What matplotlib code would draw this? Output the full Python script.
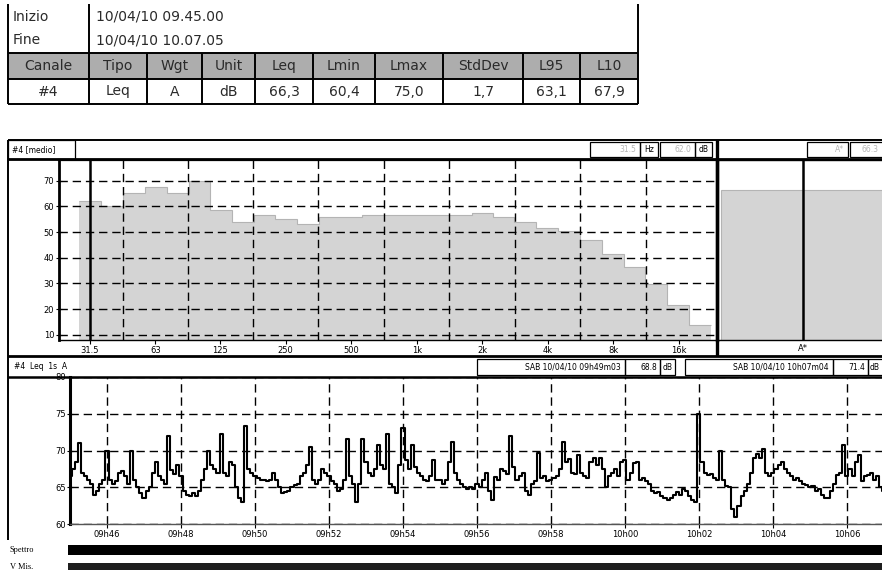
import numpy as np
import pandas as pd
import matplotlib
matplotlib.use("Agg")
import matplotlib.pyplot as plt
import matplotlib.dates as mdates
from matplotlib.patches import Rectangle
from matplotlib.ticker import FixedLocator, NullFormatter

W, H = 882, 570

# ---- table at the top
info_labels = ["Inizio", "Fine"]
info_values = ["10/04/10 09.45.00", "10/04/10 10.07.05"]
col_names = ["Canale", "Tipo", "Wgt", "Unit", "Leq", "Lmin", "Lmax", "StdDev", "L95", "L10"]
row_values = ["#4", "Leq", "A", "dB", "66,3", "60,4", "75,0", "1,7", "63,1", "67,9"]

# ---- 1/3 octave spectrum (medio)
bands = [31.5, 40, 50, 63, 80, 100, 125, 160, 200, 250, 315, 400, 500, 630, 800,
         1000, 1250, 1600, 2000, 2500, 3150, 4000, 5000, 6300, 8000, 10000, 12500,
         16000, 20000]
spec_leq = [62.0, 60.2, 65.0, 67.4, 65.0, 70.0, 58.5, 53.7, 56.6, 55.0, 53.0, 55.7,
            56.0, 56.6, 56.6, 56.6, 56.6, 56.6, 57.2, 56.0, 54.0, 51.5, 50.4, 46.8,
            41.6, 36.4, 29.9, 21.8, 13.7]
band_ticks = [31.5, 63, 125, 250, 500, 1000, 2000, 4000, 8000, 16000]
band_ticklabels = ["31.5", "63", "125", "250", "500", "1k", "2k", "4k", "8k", "16k"]
overall_label = "A*"
overall_leq = 66.3

# ---- Leq 1s time history, read every 5 s from 09:45:00
leq_hist = [
    66.5, 67.5, 68.5, 71.0, 67.0, 66.5, 66.0, 65.5, 64.0, 64.5, 65.5, 66.0,
    70.0, 66.0, 65.5, 65.8, 67.0, 67.2, 66.5, 65.5, 70.0, 66.0, 65.0, 64.2,
    63.6, 64.5, 65.0, 67.0, 68.5, 66.5, 66.0, 65.5, 72.0, 67.3, 66.8, 68.0,
    66.5, 64.5, 64.0, 63.8, 64.2, 63.8, 64.5, 66.0, 67.5, 70.0, 68.0, 67.5,
    67.0, 72.3, 67.0, 66.5, 68.5, 68.0, 65.0, 63.5, 63.0, 73.4, 67.5, 67.0,
    66.5, 66.3, 66.0, 66.0, 65.8, 66.0, 67.0, 66.0, 65.0, 64.2, 64.3, 64.5,
    65.0, 65.3, 65.5, 66.5, 67.0, 68.0, 70.5, 66.0, 65.5, 66.0, 67.5, 67.0,
    66.5, 65.8, 65.5, 64.5, 64.8, 66.0, 71.5, 66.5, 65.5, 63.0, 65.5, 71.6,
    68.5, 67.0, 66.5, 67.5, 70.8, 68.0, 67.5, 72.2, 65.5, 65.0, 64.2, 68.0,
    73.1, 68.7, 67.5, 70.8, 67.8, 67.0, 66.5, 66.0, 65.8, 66.5, 68.7, 66.0,
    66.0, 65.5, 66.0, 68.5, 71.1, 67.0, 66.0, 65.5, 65.0, 64.8, 65.0, 64.7,
    65.5, 65.0, 66.0, 66.9, 64.5, 63.3, 66.4, 66.0, 67.5, 67.2, 66.8, 72.0,
    67.8, 66.0, 66.5, 67.0, 64.5, 64.0, 65.5, 65.8, 69.7, 66.3, 66.5, 65.8,
    66.0, 66.3, 66.5, 67.5, 71.1, 68.5, 68.8, 67.0, 66.8, 69.4, 67.0, 66.5,
    66.3, 68.5, 69.0, 68.0, 69.0, 67.5, 65.0, 66.5, 67.0, 67.5, 66.5, 68.5,
    68.7, 66.0, 67.0, 68.3, 68.5, 66.0, 66.3, 65.8, 65.5, 64.5, 64.2, 64.3,
    63.8, 63.5, 63.3, 63.6, 64.0, 64.3, 64.0, 64.7, 64.5, 63.8, 63.3, 63.0,
    75.0, 68.5, 67.0, 66.6, 66.8, 66.2, 66.0, 70.0, 66.0, 65.2, 65.0, 62.0,
    61.0, 62.5, 63.8, 64.5, 65.5, 67.0, 69.0, 69.5, 69.0, 70.2, 67.0, 66.5,
    67.0, 67.5, 68.0, 68.5, 67.5, 67.0, 66.5, 66.0, 66.2, 65.8, 65.5, 65.3,
    65.0, 65.2, 64.5, 64.8, 64.0, 63.5, 63.6, 64.5, 65.5, 66.6, 67.0, 70.7,
    66.5, 67.5, 66.5, 68.5, 69.4, 65.8, 66.5, 66.6, 67.0, 66.0, 66.5, 65.0,
    64.5, 64.8,
]
t_start = "2010-04-10 09:45:00"
t_end = "2010-04-10 10:07:05"
hist_title = "#4  Leq  1s  A"
cursor1 = ("SAB 10/04/10 09h49m03", "68.8")
cursor2 = ("SAB 10/04/10 10h07m04", "71.4")

plt.rcParams["font.family"] = ["DejaVu Sans"]
fig = plt.figure(figsize=(W / 100, H / 100), dpi=100)
fig.patch.set_facecolor("white")


def px_ax(x0, y0, x1, y1):
    return fig.add_axes([x0 / W, 1 - y1 / H, (x1 - x0) / W, (y1 - y0) / H])


DASH = (0, (6, 3.5))
BAR_GRAY = "#d4d4d4"
TXT = "#2a2a2a"

# ---------------- spectrum panel
ax = px_ax(59, 160, 717, 340)
edges = [bands[0] / 2 ** (1 / 6)]
for a, b in zip(bands[:-1], bands[1:]):
    edges.append(np.sqrt(a * b))
edges.append(bands[-1] * 2 ** (1 / 6))
edges = np.array(edges)
ax.bar(edges[:-1], spec_leq, width=np.diff(edges), align="edge", bottom=0,
       color=BAR_GRAY, edgecolor="none", zorder=1)
ax.stairs(spec_leq, edges, baseline=None, color="#b4b4b4", lw=0.8, zorder=1.5)
ax.set_xscale("log", base=2)
ax.set_xlim(22.7, 24000)
ax.set_ylim(8, 78)
ax.xaxis.set_major_locator(FixedLocator(band_ticks))
ax.set_xticklabels(band_ticklabels)
mids = [np.sqrt(a * b) for a, b in zip(band_ticks[:-1], band_ticks[1:])]
ax.xaxis.set_minor_locator(FixedLocator(mids))
ax.xaxis.set_minor_formatter(NullFormatter())
ax.set_yticks(range(10, 71, 10))
ax.xaxis.grid(True, which="minor", color="k", ls=DASH, lw=1.0, zorder=2)
ax.yaxis.grid(True, which="major", color="k", ls=DASH, lw=1.0, zorder=2)
ax.set_axisbelow(False)
ax.tick_params(axis="x", which="major", length=3, width=0.8, pad=1, labelsize=6)
ax.tick_params(axis="x", which="minor", length=0)
ax.tick_params(axis="y", length=5, width=0.8, direction="inout", pad=1, labelsize=6)
ax.axvline(bands[0], color="k", lw=1.8, zorder=3)
for s, w in (("left", 2.0), ("right", 2.4), ("top", 1.6), ("bottom", 1.0)):
    ax.spines[s].set_linewidth(w)

# overall level panel
ax2 = px_ax(718, 160, 888, 340)
ax2.bar([0], [overall_leq], width=0.96, color=BAR_GRAY, edgecolor="#b4b4b4", lw=0.8)
ax2.axvline(0, color="k", lw=1.8)
ax2.set_xlim(-0.5, 0.5)
ax2.set_ylim(8, 78)
ax2.set_yticks([])
ax2.set_xticks([0])
ax2.set_xticklabels([overall_label])
ax2.tick_params(axis="x", length=0, pad=3, labelsize=6)
for s in ax2.spines.values():
    s.set_linewidth(1.0)

# ---------------- time history panel
times = pd.date_range(t_start, periods=len(leq_hist), freq="5s")
ax3 = px_ax(70, 377, 887, 524)
ax3.plot(times, leq_hist, color="k", lw=1.5, drawstyle="steps-mid", zorder=3)
ax3.set_xlim(pd.Timestamp(t_start), pd.Timestamp(t_end))
ax3.set_ylim(60, 80)
ax3.set_yticks(range(60, 81, 5))
ax3.xaxis.set_major_locator(mdates.MinuteLocator(byminute=range(0, 60, 2)))
ax3.xaxis.set_major_formatter(mdates.DateFormatter("%Hh%M"))
ax3.grid(True, color="k", ls=DASH, lw=1.0, zorder=2)
ax3.tick_params(axis="x", length=3, width=0.8, pad=1, labelsize=6)
ax3.tick_params(axis="y", length=4, width=0.8, direction="inout", pad=1, labelsize=6)
ax3.spines["left"].set_linewidth(2.2)
ax3.spines["bottom"].set_linewidth(1.0)
ax3.spines["bottom"].set_color("#555555")

# ---------------- overlay: table, frames, header strips
ov = fig.add_axes([0, 0, 1, 1])
ov.set_xlim(0, W)
ov.set_ylim(H, 0)
ov.axis("off")
ov.patch.set_visible(False)
ov.set_zorder(10)


def line(x0, y0, x1, y1, lw=1.2, color="k"):
    ov.plot([x0, x1], [y0, y1], color=color, lw=lw, solid_capstyle="butt")


def box(x0, y0, x1, y1, lw=0.9):
    ov.add_patch(Rectangle((x0, y0), x1 - x0, y1 - y0, fill=False, edgecolor="k", lw=lw))


# table
tab_x = [8, 89, 147, 202, 255, 313, 375, 443, 523, 580, 638]
ov.add_patch(Rectangle((8, 53), 630, 26, facecolor="#adadad", edgecolor="none"))
for y in (53, 79, 104):
    line(8, y, 638, y, lw=1.4)
line(8, 4, 8, 104, lw=1.4)
line(89, 4, 89, 104, lw=1.4)
line(638, 4, 638, 104, lw=1.4)
for x in tab_x[2:-1]:
    line(x, 53, x, 104, lw=1.4)
for i, (lab, val) in enumerate(zip(info_labels, info_values)):
    yy = 17 + 23 * i
    ov.text(13, yy, lab, fontsize=10, va="center", ha="left", color=TXT)
    ov.text(96, yy, val, fontsize=10, va="center", ha="left", color=TXT)
for i, (name, val) in enumerate(zip(col_names, row_values)):
    xc = (tab_x[i] + tab_x[i + 1]) / 2
    ov.text(xc, 66, name, fontsize=10, ha="center", va="center", color=TXT)
    ov.text(xc, 91.5, val, fontsize=10, ha="center", va="center", color=TXT)

# chart frame
line(8, 140, 882, 140, lw=1.4)
line(8, 159, 882, 159, lw=2.0)
line(8, 140, 8, 540, lw=1.4)
line(717, 140, 717, 356, lw=2.4)
line(8, 356, 882, 356, lw=2.0)
line(8, 377, 882, 377, lw=1.8)

# spectrum header strip
box(8, 140, 75, 159)
ov.text(12, 149.5, "#4 [medio]", fontsize=5.5, va="center", ha="left")
box(590, 142, 640, 157)
ov.text(636, 149.5, f"{bands[0]:g}", fontsize=5.5, va="center", ha="right", color="#b5b5b5")
box(640, 142, 658, 157)
ov.text(649, 149.5, "Hz", fontsize=5.5, va="center", ha="center")
box(660, 142, 695, 157)
ov.text(691, 149.5, f"{spec_leq[0]:.1f}", fontsize=5.5, va="center", ha="right", color="#b5b5b5")
box(695, 142, 712, 157)
ov.text(703.5, 149.5, "dB", fontsize=5.5, va="center", ha="center")
box(807, 142, 848, 157)
ov.text(844, 149.5, overall_label, fontsize=5.5, va="center", ha="right", color="#b5b5b5")
box(850, 142, 900, 157)
ov.text(878, 149.5, f"{overall_leq:.1f}", fontsize=5.5, va="center", ha="right", color="#b5b5b5")

# time history header strip
ov.text(14, 366.5, hist_title, fontsize=5.5, va="center", ha="left")
box(477, 359, 625, 375)
ov.text(621, 367, cursor1[0], fontsize=5.5, va="center", ha="right")
box(625, 359, 660, 375)
ov.text(657, 367, cursor1[1], fontsize=5.5, va="center", ha="right")
box(660, 359, 675, 375)
ov.text(667.5, 367, "dB", fontsize=5.5, va="center", ha="center")
box(685, 359, 833, 375)
ov.text(829, 367, cursor2[0], fontsize=5.5, va="center", ha="right")
box(833, 359, 868, 375)
ov.text(865, 367, cursor2[1], fontsize=5.5, va="center", ha="right")
box(868, 359, 900, 375)
ov.text(875, 367, "dB", fontsize=5.5, va="center", ha="center")

# status bars at the bottom
ov.add_patch(Rectangle((68, 545), 820, 10, facecolor="black", edgecolor="none"))
ov.add_patch(Rectangle((68, 563), 820, 10, facecolor="#1e1e1e", edgecolor="none"))
ov.text(10, 550, "Spettro", fontsize=6, family="Liberation Serif", va="center", ha="left")
ov.text(10, 567, "V Mis.", fontsize=6, family="Liberation Serif", va="center", ha="left")

fig.savefig("out.png", dpi=100)
